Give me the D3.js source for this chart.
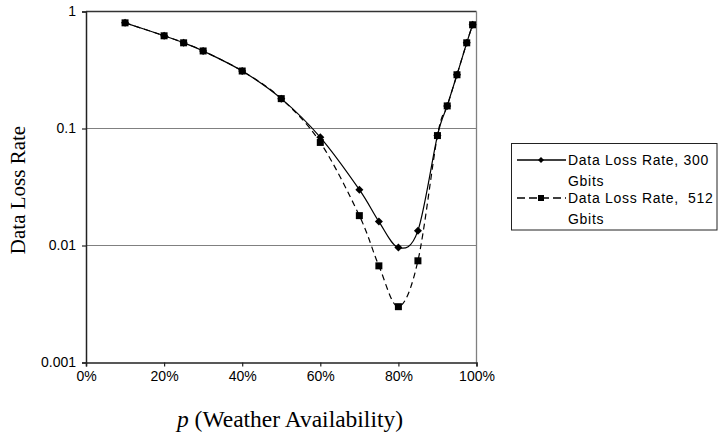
<!DOCTYPE html>
<html>
<head>
<meta charset="utf-8">
<script src="https://cdn.jsdelivr.net/npm/d3@7.9.0/dist/d3.min.js"></script>
<style>
  body { margin: 0; background: #fff; }
  svg { display: block; }
  .tick text { font-family: "Liberation Sans", Arial, sans-serif; font-size: 14px; fill: #000; }
</style>
</head>
<body>
<svg id="chart" width="719" height="437"></svg>
<script>
// values
const availability = [10, 20, 25, 30, 40, 50, 60, 70, 75, 80, 85, 90, 92.5, 95, 97.5, 99];
const loss300 = [0.80, 0.62, 0.54, 0.46, 0.31, 0.18, 0.084, 0.030, 0.016, 0.0096, 0.0134, 0.087, 0.156, 0.288, 0.54, 0.77];
const loss512 = [0.80, 0.62, 0.54, 0.46, 0.31, 0.18, 0.076, 0.018, 0.0067, 0.0030, 0.0074, 0.087, 0.156, 0.288, 0.54, 0.77];
const xTicks = [0, 20, 40, 60, 80, 100];
const yTicks = [0.001, 0.01, 0.1, 1];
const seriesNames = ['Data Loss Rate, 300', 'Data Loss Rate,  512'];

const svg = d3.select('#chart');
const mLeft = 86, mTop = 11.5, w = 390.5, h = 351;
const g = svg.append('g').attr('transform', `translate(${mLeft},${mTop})`);

let x = d3.scaleLinear().domain([0, 100]).range([0, w]);
let y = d3.scaleLog().domain([0.001, 1]).range([h, 0]);

// gridlines
g.selectAll('.grid').data([0.01, 0.1]).enter().append('line')
  .attr('x1', 0).attr('x2', w).attr('y1', d => y(d)).attr('y2', d => y(d))
  .attr('stroke', '#808080').attr('stroke-width', 1.2);

// plot border top / right
g.append('line').attr('x1', 0).attr('x2', w).attr('y1', 0).attr('y2', 0).attr('stroke', '#333').attr('stroke-width', 1.3);
g.append('line').attr('x1', w).attr('x2', w).attr('y1', 0).attr('y2', h).attr('stroke', '#808080').attr('stroke-width', 1.3);

// axes
let xAxis = d3.axisBottom(x).tickValues(xTicks).tickFormat(d => d + '%').tickSizeOuter(0).tickSize(4).tickPadding(5);
let yAxis = d3.axisLeft(y).tickValues(yTicks).tickFormat(d => String(d)).tickSizeOuter(0).tickSize(4).tickPadding(6);
let gx = g.append('g').attr('class', 'x axis').attr('transform', `translate(0,${h})`).call(xAxis);
let gy = g.append('g').attr('class', 'y axis').call(yAxis);
gx.select('.domain').attr('stroke', '#222').attr('stroke-width', 1.5);
gy.select('.domain').attr('stroke', '#222').attr('stroke-width', 1.5);
gx.selectAll('.tick line').attr('stroke', '#222').attr('stroke-width', 1.2);
gy.selectAll('.tick line').attr('stroke', '#222').attr('stroke-width', 1.2);

// lines
let line = d3.line().x(d => x(d[0])).y(d => y(d[1])).curve(d3.curveCatmullRom.alpha(0));
let data300 = availability.map((a, i) => [a, loss300[i]]);
let data512 = availability.map((a, i) => [a, loss512[i]]);

g.append('path').attr('d', line(data512)).attr('fill', 'none').attr('stroke', '#000').attr('stroke-width', 1.2).attr('stroke-dasharray', '6,4');
g.append('path').attr('d', line(data300)).attr('fill', 'none').attr('stroke', '#000').attr('stroke-width', 1.2);

function diamond(s) { return `M0,${-s}L${s},0L0,${s}L${-s},0Z`; }
function square(s) { return `M${-s},${-s}H${s}V${s}H${-s}Z`; }

g.selectAll('.sq').data(data512).enter().append('path')
  .attr('d', square(3.5)).attr('fill', '#000')
  .attr('transform', d => `translate(${x(d[0])},${y(d[1])})`);
g.selectAll('.dm').data(data300).enter().append('path')
  .attr('d', diamond(4)).attr('fill', '#000')
  .attr('transform', d => `translate(${x(d[0])},${y(d[1])})`);

// axis titles
svg.append('text').attr('transform', 'translate(25,190) rotate(-90)').attr('text-anchor', 'middle')
  .style('font-family', '"Liberation Serif", "Times New Roman", serif').style('font-size', '21px')
  .text('Data Loss Rate');
let xt = svg.append('text').attr('x', 290).attr('y', 427).attr('text-anchor', 'middle')
  .style('font-family', '"Liberation Serif", "Times New Roman", serif').style('font-size', '23.5px');
xt.append('tspan').style('font-style', 'italic').text('p');
xt.append('tspan').text(' (Weather Availability)');

// legend
let lg = svg.append('g');
lg.append('rect').attr('x', 511.5).attr('y', 143.5).attr('width', 205.5).attr('height', 86.5)
  .attr('fill', '#fff').attr('stroke', '#222').attr('stroke-width', 1);
let legendRows = [{ y: 160, dash: null, mark: diamond(3) }, { y: 198, dash: '8,4', mark: square(3) }];
legendRows.forEach((r, i) => {
  lg.append('line').attr('x1', 517).attr('x2', 566).attr('y1', r.y).attr('y2', r.y)
    .attr('stroke', '#000').attr('stroke-width', 1.3).attr('stroke-dasharray', r.dash);
  lg.append('path').attr('d', r.mark).attr('fill', '#000').attr('transform', `translate(541,${r.y})`);
  let t = lg.append('text').attr('x', 568).attr('y', r.y + 5)
    .style('font-family', '"Liberation Sans", Arial, sans-serif').style('font-size', '14px')
    .style('letter-spacing', '0.7px').style('white-space', 'pre');
  t.append('tspan').text(seriesNames[i]);
  t.append('tspan').attr('x', 568).attr('dy', 21).text('Gbits');
});
</script>
</body>
</html>
